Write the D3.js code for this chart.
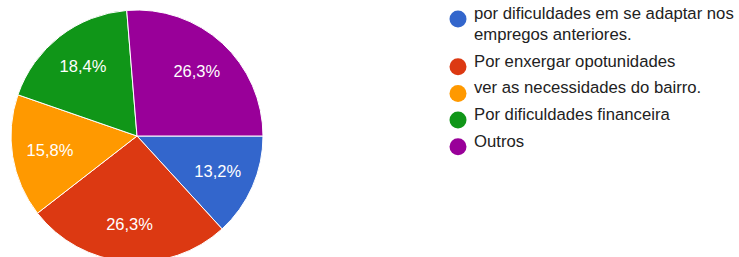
<!DOCTYPE html>
<head>
  <meta charset="utf-8">
  <title>Pie</title>
  <script src="https://d3js.org/d3.v7.min.js"></script>
  <style>
    body { margin:0; background:#fff; }
    svg { display:block; }
  </style>
</head>
<body>
  <svg width="739" height="257"></svg>
  <script>
    var categories = [
      'por dificuldades em se adaptar nos empregos anteriores.',
      'Por enxergar opotunidades',
      'ver as necessidades do bairro.',
      'Por dificuldades financeira',
      'Outros'
    ];
    var values = [13.2, 26.3, 15.8, 18.4, 26.3];
    var colors = ['#3366cc', '#dc3912', '#ff9900', '#109618', '#990099'];

    var svg = d3.select('svg');
    var cx = 137, cy = 136, radius = 126;
    var font = 'Arial, "Liberation Sans", sans-serif';

    var color = d3.scaleOrdinal().domain(categories).range(colors);

    var pie = d3.pie()
      .value(d => d.value)
      .sort(null)
      .startAngle(Math.PI / 2)
      .endAngle(Math.PI / 2 + 2 * Math.PI);

    var data = categories.map((c, i) => ({ name: c, value: values[i] }));
    var arcs = pie(data);

    var arc = d3.arc().innerRadius(0).outerRadius(radius);
    var labelArc = d3.arc().innerRadius(radius * 0.7).outerRadius(radius * 0.7);

    var g = svg.append('g').attr('transform', `translate(${cx},${cy})`);

    g.selectAll('path')
      .data(arcs)
      .enter().append('path')
      .attr('d', arc)
      .attr('fill', d => color(d.data.name))
      .attr('stroke', '#fff')
      .attr('stroke-width', 1);

    g.selectAll('text')
      .data(arcs)
      .enter().append('text')
      .attr('transform', d => `translate(${labelArc.centroid(d)})`)
      .attr('text-anchor', 'middle')
      .attr('dy', '0.36em')
      .attr('fill', '#fff')
      .style('font-family', font)
      .style('font-size', '16.5px')
      .text(d => d.data.value.toFixed(1).replace('.', ',') + '%');

    // legend
    var legend = svg.append('g').attr('transform', 'translate(458,19)');
    var maxWidth = 275;
    var y = 0;
    categories.forEach((c, i) => {
      var item = legend.append('g').attr('transform', `translate(0,${y})`);
      item.append('circle')
        .attr('r', 8.5)
        .attr('fill', color(c));
      var text = item.append('text')
        .attr('x', 16)
        .attr('dy', '0.36em')
        .attr('fill', '#222')
        .style('font-family', font)
        .style('font-size', '16.7px');
      // simple word wrap
      var words = c.split(' ');
      var line = [];
      var lines = 0;
      var tspan = text.append('tspan').attr('x', 16).attr('dy', 0);
      words.forEach(w => {
        line.push(w);
        tspan.text(line.join(' '));
        if (tspan.node().getComputedTextLength() > maxWidth && line.length > 1) {
          line.pop();
          tspan.text(line.join(' '));
          line = [w];
          lines++;
          tspan = text.append('tspan').attr('x', 16).attr('dy', 21).text(w);
        }
      });
      y += 26.7 + lines * 21;
    });
  </script>
</body>
